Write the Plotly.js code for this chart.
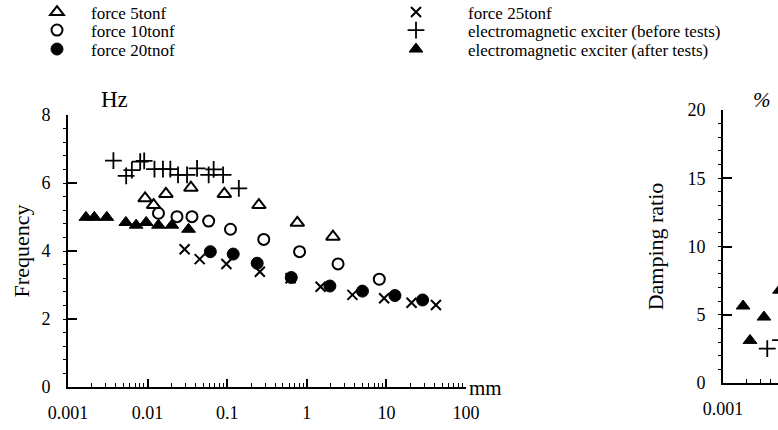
<!DOCTYPE html>
<html>
<head>
<meta charset="utf-8">
<script src="https://cdn.plot.ly/plotly-3.0.1.min.js"></script>
<style>html,body{margin:0;padding:0;background:#fff;}#chart{width:778px;height:430px;}</style>
</head>
<body>
<div id="chart"></div>
<script>
// ---- tick labels ----
const xTickVals = [0.001, 0.01, 0.1, 1, 10, 100];
const xTickText = ['0.001', '0.01', '0.1', '1', '10', '100'];
const x2TickVals = [0.001];
const x2TickText = ['0.001'];

// ---- series names ----
const names = ['force 5tonf', 'force 10tonf', 'force 20tnof', 'force 25tonf',
  'electromagnetic exciter (before tests)', 'electromagnetic exciter (after tests)'];

// ---- Frequency (Hz) vs amplitude (mm) ----
const f5x = [0.0093, 0.0119, 0.017, 0.035, 0.092, 0.25, 0.76, 2.13];
const f5y = [5.55, 5.35, 5.68, 5.86, 5.68, 5.35, 4.83, 4.42];
const f10x = [0.0137, 0.0234, 0.0361, 0.0585, 0.110, 0.288, 0.811, 2.47, 8.14];
const f10y = [5.11, 5.01, 5.01, 4.88, 4.64, 4.34, 3.98, 3.62, 3.17];
const f20x = [0.0614, 0.119, 0.238, 0.638, 1.95, 5.0, 12.8, 28.5];
const f20y = [3.98, 3.91, 3.64, 3.22, 2.97, 2.82, 2.69, 2.56];
const f25x = [0.0292, 0.0451, 0.0977, 0.257, 0.625, 1.49, 3.74, 9.36, 20.7, 41.9];
const f25y = [4.05, 3.76, 3.62, 3.39, 3.2, 2.95, 2.71, 2.61, 2.48, 2.41];
const beforeX = [0.00372, 0.00538, 0.00634, 0.00807, 0.00906, 0.0122, 0.0156, 0.0193, 0.0241, 0.0313, 0.0418, 0.0585, 0.0676, 0.0888, 0.140];
const beforeY = [6.66, 6.21, 6.38, 6.63, 6.65, 6.41, 6.41, 6.41, 6.24, 6.24, 6.43, 6.24, 6.40, 6.24, 5.84];
const afterX = [0.00168, 0.00214, 0.00307, 0.00533, 0.00718, 0.0096, 0.0137, 0.0202, 0.0327];
const afterY = [4.99, 4.99, 4.99, 4.84, 4.76, 4.84, 4.76, 4.76, 4.64];

// ---- Damping ratio (%) vs amplitude (mm) ----
const dampAfterX = [0.00179, 0.00219, 0.00328, 0.00516];
const dampAfterY = [5.64, 3.12, 4.83, 6.8];
const dampBeforeX = [0.00361, 0.0053];
const dampBeforeY = [2.52, 3.14];

const SERIF = 'Liberation Serif, Times New Roman, serif';
const W = 778, H = 430;
const px = v => v / W;
const py = v => 1 - v / H;

function sc(x, y, name, symbol, size, lw, leg, xa, ya, show) {
  return {
    type: 'scatter', mode: 'markers', x: x, y: y, name: name,
    xaxis: xa || 'x', yaxis: ya || 'y',
    legend: leg || 'legend', showlegend: show !== false,
    cliponaxis: true,
    marker: {symbol: symbol, size: size, color: '#000',
      line: {color: '#000', width: lw}},
    hoverinfo: 'x+y+name'
  };
}

const data = [
  sc(f5x, f5y, names[0], 'triangle-up-open', 12, 2, 'legend'),
  sc(f10x, f10y, names[1], 'circle-open', 11, 2, 'legend2'),
  sc(f20x, f20y, names[2], 'circle', 12, 1, 'legend3'),
  sc(f25x, f25y, names[3], 'x-thin-open', 10, 2, 'legend4'),
  sc(beforeX, beforeY, names[4], 'cross-thin-open', 12, 1.8, 'legend5'),
  sc(afterX, afterY, names[5], 'triangle-up', 12, 1, 'legend6'),
  sc(dampAfterX, dampAfterY, names[5], 'triangle-up', 12, 1, 'legend6', 'x2', 'y2', false),
  sc(dampBeforeX, dampBeforeY, names[4], 'cross-thin-open', 12, 1.8, 'legend5', 'x2', 'y2', false)
];

function leg(xLeft, yMid, iw) {
  return {x: px(xLeft), xanchor: 'left', y: py(yMid), yanchor: 'middle',
    bgcolor: 'rgba(0,0,0,0)', borderwidth: 0, itemwidth: iw,
    font: {family: SERIF, size: 17, color: '#000'}, itemclick: false, itemdoubleclick: false};
}

const axisCommon = {
  showline: true, linecolor: '#000', linewidth: 1.6, mirror: false,
  showgrid: false, zeroline: false, ticks: 'inside', tickcolor: '#000', tickwidth: 1.6,
  tickfont: {family: SERIF, size: 18, color: '#000'}, fixedrange: true
};

const layout = {
  width: W, height: H,
  margin: {l: 0, r: 0, t: 0, b: 0, autoexpand: false},
  paper_bgcolor: '#fff', plot_bgcolor: '#fff',
  font: {family: SERIF, color: '#000'},
  showlegend: true,
  legend: leg(23, 12.5, 58),
  legend2: leg(23, 30.5, 58),
  legend3: leg(23, 49.5, 58),
  legend4: leg(364, 12.5, 94),
  legend5: leg(364, 30.5, 94),
  legend6: leg(364, 49.5, 94),
  xaxis: Object.assign({}, axisCommon, {
    domain: [px(68), px(466)], type: 'log', range: [-3, 2], anchor: 'y',
    tickmode: 'array', tickvals: xTickVals, ticktext: xTickText, ticklen: 8,
    ticklabelstandoff: 9,
    minor: {ticks: 'inside', ticklen: 4, dtick: 'D1', tickcolor: '#000', tickwidth: 1.3}
  }),
  yaxis: Object.assign({}, axisCommon, {
    domain: [py(387), py(115)], range: [0, 8], dtick: 2, anchor: 'x', ticklen: 9,
    ticklabelstandoff: 12,
    minor: {ticks: 'outside', ticklen: 3, dtick: 0.4, tickcolor: '#000', tickwidth: 1},
    title: {text: 'Frequency', font: {family: SERIF, size: 22, color: '#000'}, standoff: 6}
  }),
  xaxis2: Object.assign({}, axisCommon, {
    domain: [px(723), 1], type: 'log', range: [-3, Math.log10(0.001) + (778 - 723) / 79.4], anchor: 'y2',
    tickmode: 'array', tickvals: x2TickVals, ticktext: x2TickText, ticklen: 8,
    ticklabelstandoff: 9,
    minor: {ticks: 'inside', ticklen: 4, dtick: 'D1', tickcolor: '#000', tickwidth: 1.3}
  }),
  yaxis2: Object.assign({}, axisCommon, {
    domain: [py(383), py(110)], range: [0, 20], dtick: 5, anchor: 'x2', ticklen: 9,
    ticklabelstandoff: 12,
    minor: {ticks: 'outside', ticklen: 3, dtick: 1, tickcolor: '#000', tickwidth: 1},
    title: {text: 'Damping ratio', font: {family: SERIF, size: 22, color: '#000'}, standoff: 18}
  }),
  annotations: [
    {text: 'Hz', xref: 'paper', yref: 'paper', x: px(114), y: py(100), xanchor: 'center', yanchor: 'middle',
      showarrow: false, font: {family: SERIF, size: 23, color: '#000'}},
    {text: 'mm', xref: 'paper', yref: 'paper', x: px(485), y: py(388), xanchor: 'center', yanchor: 'middle',
      showarrow: false, font: {family: SERIF, size: 21, color: '#000'}},
    {text: '<i>%</i>', xref: 'paper', yref: 'paper', x: px(762), y: py(100), xanchor: 'center', yanchor: 'middle',
      showarrow: false, font: {family: SERIF, size: 21, color: '#000'}}
  ]
};

Plotly.newPlot('chart', data, layout, {displayModeBar: false});
</script>
</body>
</html>
